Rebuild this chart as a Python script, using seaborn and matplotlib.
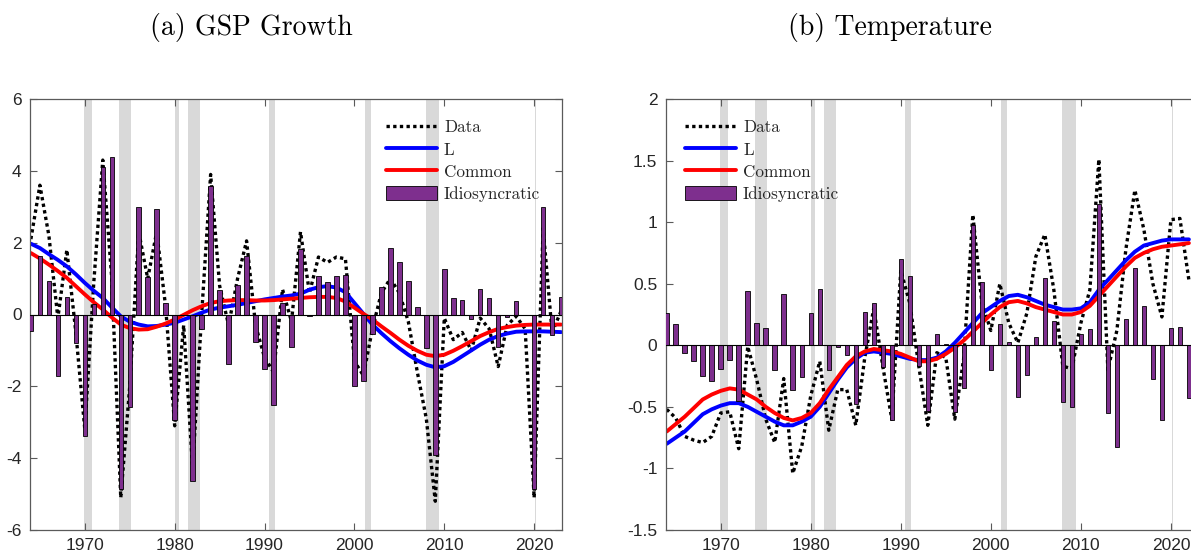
import numpy as np
import pandas as pd
import matplotlib
matplotlib.use("Agg")
import matplotlib.pyplot as plt
import seaborn as sns
from matplotlib.lines import Line2D
from matplotlib.patches import Patch

# ---------------- data ----------------
years_a = list(range(1964, 2024))
gsp_data = [2.1, 3.6, 2.2, -0.1, 1.8, -0.5, -3.2, 0.9, 4.3, 1.0,
            -5.1, -2.0, 2.3, 1.0, 2.3, 0.2, -3.1, -0.3, -4.3, 0.0,
            3.9, 0.8, -0.3, 1.0, 2.05, -0.3, -1.2, -1.6, 0.7, -0.2,
            2.3, 0.6, 1.6, 1.45, 1.6, 1.55, -1.3, -1.7, -0.4, 0.6,
            1.0, 0.6, -0.2, -1.6, -2.9, -5.2, -0.1, -0.7, -0.5, -1.0,
            -0.1, -0.4, -1.45, -0.3, -0.05, -0.4, -5.1, 2.4, -0.5, 0.1]
gsp_L = [1.97, 1.85, 1.68, 1.52, 1.34, 1.12, 0.88, 0.66, 0.46, 0.20,
         -0.05, -0.20, -0.28, -0.33, -0.32, -0.28, -0.23, -0.14, -0.05, 0.05,
         0.14, 0.19, 0.23, 0.27, 0.32, 0.37, 0.42, 0.46, 0.50, 0.53,
         0.58, 0.69, 0.76, 0.79, 0.75, 0.62, 0.32, 0.02, -0.28, -0.52,
         -0.74, -0.94, -1.12, -1.28, -1.40, -1.47, -1.44, -1.32, -1.16, -1.00,
         -0.84, -0.70, -0.60, -0.53, -0.48, -0.47, -0.47, -0.47, -0.48, -0.49]
gsp_common = [1.71, 1.56, 1.39, 1.21, 1.02, 0.79, 0.56, 0.34, 0.14, -0.08,
              -0.28, -0.38, -0.42, -0.41, -0.34, -0.25, -0.14, -0.01, 0.12, 0.23,
              0.32, 0.37, 0.39, 0.40, 0.40, 0.39, 0.39, 0.40, 0.42, 0.44,
              0.46, 0.48, 0.49, 0.49, 0.46, 0.36, 0.19, 0.02, -0.14, -0.33,
              -0.51, -0.70, -0.87, -1.01, -1.12, -1.16, -1.12, -1.01, -0.88, -0.74,
              -0.60, -0.49, -0.40, -0.35, -0.31, -0.29, -0.28, -0.28, -0.28, -0.28]
gsp_idio = [-0.47, 1.62, 0.94, -1.72, 0.49, -0.79, -3.38, 0.28, 4.10, 4.38,
            -4.87, -2.58, 2.99, 1.05, 2.94, 0.32, -2.93, 0.0, -4.63, -0.40,
            3.58, 0.67, -1.38, 0.83, 1.64, -0.77, -1.53, -2.51, 0.31, -0.90,
            1.82, -0.05, 1.06, 0.90, 1.08, 1.10, -1.98, -1.84, -0.53, 0.76,
            1.85, 1.46, 0.94, 0.21, -0.93, -3.90, 1.27, 0.45, 0.41, -0.12,
            0.71, 0.45, -0.90, -0.07, 0.38, 0.0, -4.87, 2.99, -0.56, 0.49]

years_b = list(range(1964, 2023))
temp_data = [-0.52, -0.59, -0.74, -0.77, -0.79, -0.74, -0.55, -0.54, -0.84, -0.01,
             -0.28, -0.60, -0.79, -0.27, -1.04, -0.82, -0.41, -0.13, -0.69, -0.36,
             -0.36, -0.65, -0.10, 0.30, -0.17, -0.60, 0.61, 0.34, -0.17, -0.65,
             -0.06, -0.10, -0.60, -0.10, 1.06, 0.35, 0.12, 0.50, 0.18, 0.02,
             0.26, 0.72, 0.90, 0.45, -0.17, -0.19, 0.18, 0.45, 1.51, -0.20,
             0.12, 0.78, 1.26, 0.94, 0.50, 0.23, 1.02, 1.03, 0.53]
temp_L = [-0.80, -0.75, -0.70, -0.63, -0.56, -0.52, -0.49, -0.47, -0.47, -0.50,
          -0.54, -0.58, -0.62, -0.65, -0.65, -0.62, -0.58, -0.50, -0.39, -0.28,
          -0.18, -0.11, -0.06, -0.05, -0.06, -0.07, -0.09, -0.11, -0.12, -0.12,
          -0.10, -0.05, 0.02, 0.10, 0.18, 0.26, 0.31, 0.36, 0.40, 0.41,
          0.39, 0.36, 0.33, 0.31, 0.29, 0.29, 0.30, 0.35, 0.45, 0.53,
          0.61, 0.69, 0.76, 0.81, 0.83, 0.85, 0.86, 0.86, 0.86]
temp_common = [-0.70, -0.64, -0.58, -0.51, -0.44, -0.40, -0.37, -0.35, -0.36, -0.40,
               -0.44, -0.50, -0.55, -0.59, -0.61, -0.59, -0.55, -0.47, -0.36, -0.26,
               -0.16, -0.09, -0.05, -0.03, -0.04, -0.05, -0.07, -0.10, -0.13, -0.13,
               -0.11, -0.07, -0.02, 0.04, 0.11, 0.18, 0.25, 0.31, 0.35, 0.36,
               0.34, 0.31, 0.29, 0.27, 0.25, 0.25, 0.27, 0.32, 0.40, 0.48,
               0.56, 0.64, 0.71, 0.75, 0.78, 0.80, 0.81, 0.82, 0.83]
temp_idio = [0.26, 0.17, -0.06, -0.13, -0.25, -0.29, -0.19, -0.12, -0.45, 0.44,
             0.18, 0.14, -0.20, 0.42, -0.36, -0.26, 0.26, 0.46, -0.20, -0.01,
             -0.08, -0.48, 0.27, 0.34, -0.18, -0.61, 0.70, 0.56, -0.17, -0.53,
             0.09, 0.01, -0.54, -0.35, 0.98, 0.51, -0.20, 0.17, 0.03, -0.42,
             -0.24, 0.07, 0.55, 0.20, -0.46, -0.50, 0.09, 0.13, 1.15, -0.55,
             -0.83, 0.21, 0.63, 0.32, -0.27, -0.61, 0.14, 0.15, -0.43]

recession_start = [1969.92, 1973.83, 1980.0, 1981.5, 1990.5, 2001.17, 2007.92, 2020.08]
recession_end = [1970.83, 1975.17, 1980.5, 1982.83, 1991.17, 2001.83, 2009.42, 2020.25]

xticks = [1970, 1980, 1990, 2000, 2010, 2020]
xtick_labels = ["1970", "1980", "1990", "2000", "2010", "2020"]
yticks_a = [-6, -4, -2, 0, 2, 4, 6]
ytick_labels_a = ["-6", "-4", "-2", "0", "2", "4", "6"]
yticks_b = [-1.5, -1, -0.5, 0, 0.5, 1, 1.5, 2]
ytick_labels_b = ["-1.5", "-1", "-0.5", "0", "0.5", "1", "1.5", "2"]
titles = ["(a) GSP Growth", "(b) Temperature"]
legend_labels = ["Data", "L", "Common", "Idiosyncratic"]

# ---------------- style ----------------
sns.set_theme(style="ticks")
plt.rcParams["font.family"] = ["Liberation Sans", "DejaVu Sans"]
PURPLE = "#7E2F8E"
AXCOL = "#262626"
SPINE = "#5a5a5a"
SHADE = "#d9d9d9"
DOT = (0, (1, 1))

W, H = 1191, 556
fig = plt.figure(figsize=(W / 100, H / 100), dpi=100)
ax1 = fig.add_axes([30 / W, 26 / H, 532 / W, 431 / H])
ax2 = fig.add_axes([665.8 / W, 26 / H, 533 / W, 431 / H])


def draw(ax, years, data, L, common, idio, ylim, yticks, ylabels, anchor):
    for a, b in zip(recession_start, recession_end):
        ax.axvspan(a, b, color=SHADE, lw=0, zorder=0)
    sns.lineplot(x=years, y=data, ax=ax, color="black", lw=2.4,
                 linestyle=DOT, zorder=2, legend=False)
    sns.lineplot(x=years, y=L, ax=ax, color="blue", lw=2.8, zorder=2, legend=False)
    sns.lineplot(x=years, y=common, ax=ax, color="red", lw=2.8, zorder=2, legend=False)
    sns.barplot(x=years, y=idio, native_scale=True, width=0.5, color=PURPLE,
                saturation=1, edgecolor="black", linewidth=0.6, errorbar=None,
                ax=ax, zorder=3)
    ax.axhline(0, color="black", lw=0.8, zorder=4)
    ax.set_xlim(1963.9, 2023.1)
    ax.set_ylim(*ylim)
    ax.set_xticks(xticks)
    ax.set_xticklabels(xtick_labels)
    ax.set_yticks(yticks)
    ax.set_yticklabels(ylabels)
    ax.set_xlabel("")
    ax.set_ylabel("")
    ax.tick_params(direction="in", top=True, right=True, length=5, width=0.8,
                   color=SPINE, labelcolor=AXCOL, labelsize=12.5, pad=6)
    for s in ax.spines.values():
        s.set_color(SPINE)
        s.set_linewidth(0.9)
        s.set_visible(True)
    handles = [Line2D([], [], color="black", lw=2.4, linestyle=DOT),
               Line2D([], [], color="blue", lw=2.8),
               Line2D([], [], color="red", lw=2.8),
               Patch(facecolor=PURPLE, edgecolor="black", lw=0.6)]
    ax.legend(handles, legend_labels, loc="upper left", bbox_to_anchor=anchor,
              frameon=False, prop={"family": "cmr10", "size": 12.3},
              handlelength=3.0, handleheight=0.88, handletextpad=0.4,
              labelspacing=0.38, borderaxespad=0, borderpad=0)


draw(ax1, years_a, gsp_data, gsp_L, gsp_common, gsp_idio, (-6, 6),
     yticks_a, ytick_labels_a, (0.669, 0.953))
draw(ax2, years_b, temp_data, temp_L, temp_common, temp_idio, (-1.5, 2),
     yticks_b, ytick_labels_b, (0.036, 0.953))

fig.text(251 / W, 1 - 27 / H, titles[0], family="cmr10", size=20,
         ha="center", va="center", color="black")
fig.text(890 / W, 1 - 27 / H, titles[1], family="cmr10", size=20,
         ha="center", va="center", color="black")

fig.savefig("out.png", dpi=100)
